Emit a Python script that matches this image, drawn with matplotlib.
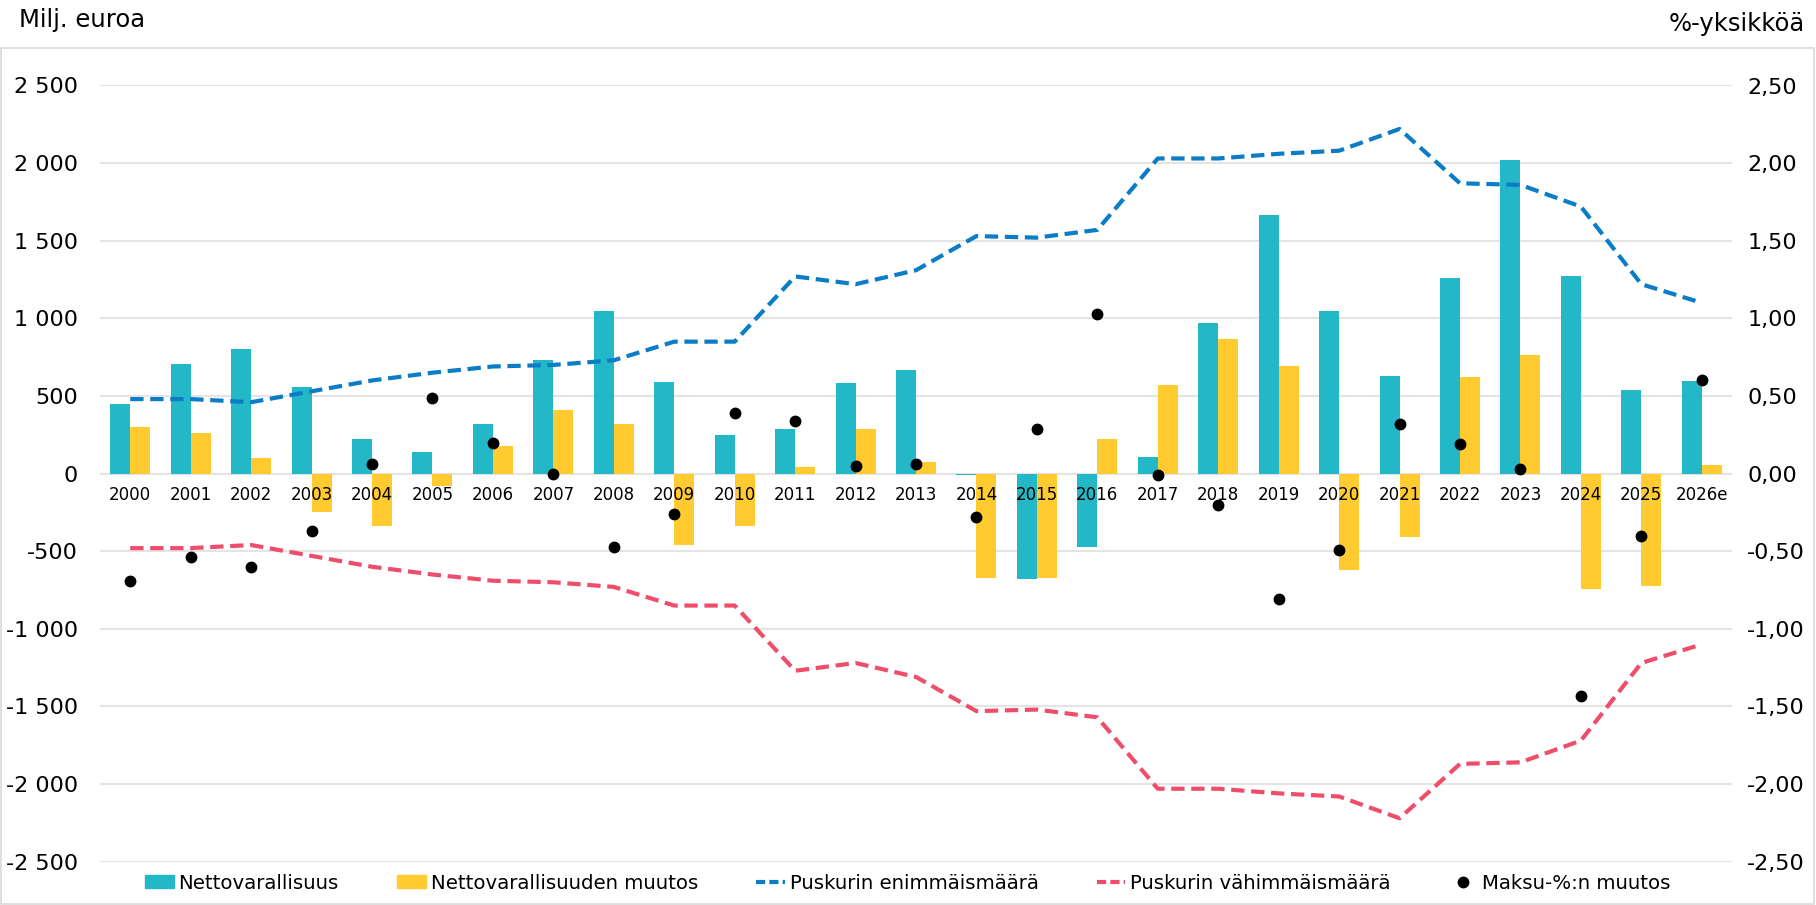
import matplotlib
matplotlib.use("Agg")
import matplotlib.pyplot as plt
import numpy as np
from matplotlib.lines import Line2D
from matplotlib.patches import Patch, Rectangle
from matplotlib.ticker import FuncFormatter, MultipleLocator

# data
years = ["2000", "2001", "2002", "2003", "2004", "2005", "2006", "2007", "2008",
         "2009", "2010", "2011", "2012", "2013", "2014", "2015", "2016", "2017",
         "2018", "2019", "2020", "2021", "2022", "2023", "2024", "2025", "2026e"]

# Milj. euroa
nettovarallisuus = [450, 705, 805, 555, 220, 140, 320, 730, 1050,
                    590, 250, 290, 585, 665, -10, -680, -470, 105,
                    970, 1665, 1045, 630, 1260, 2020, 1270, 540, 595]
nettovarallisuuden_muutos = [300, 260, 100, -250, -335, -80, 180, 410, 320,
                             -460, -340, 40, 290, 75, -670, -675, 220, 570,
                             870, 695, -620, -410, 625, 765, -745, -725, 55]

# %-yksikköä
puskurin_enimmaismaara = [0.48, 0.48, 0.46, 0.53, 0.60, 0.65, 0.69, 0.70, 0.73,
                          0.85, 0.85, 1.27, 1.22, 1.31, 1.53, 1.52, 1.57, 2.03,
                          2.03, 2.06, 2.08, 2.22, 1.87, 1.86, 1.72, 1.22, 1.10]
puskurin_vahimmaismaara = [-v for v in puskurin_enimmaismaara]
maksu_muutos = [-0.69, -0.54, -0.60, -0.37, 0.06, 0.49, 0.20, 0.00, -0.47,
                -0.26, 0.39, 0.34, 0.05, 0.06, -0.28, 0.29, 1.03, -0.01,
                -0.20, -0.81, -0.49, 0.32, 0.19, 0.03, -1.43, -0.40, 0.60]

TEAL = "#23b8c7"
YELLOW = "#ffcb31"
BLUE = "#0b7cc6"
RED = "#ef4e6b"
GRID = "#e4e4e4"

plt.rcParams["font.family"] = ["DejaVu Sans"]
plt.rcParams["axes.unicode_minus"] = False

W, H = 1816, 905
fig = plt.figure(figsize=(W / 100, H / 100), dpi=100)
top_px, bottom_px, left_px, right_px = 85.5, 861.7, 100, 1732
ax = fig.add_axes([left_px / W, 1 - bottom_px / H,
                   (right_px - left_px) / W, (bottom_px - top_px) / H])

x = np.arange(len(years))
bw = 0.33
ax.bar(x - bw / 2, nettovarallisuus, width=bw, color=TEAL, zorder=2)
ax.bar(x + bw / 2, nettovarallisuuden_muutos, width=bw, color=YELLOW, zorder=2)

ax.set_xlim(-0.5, len(years) - 0.5)
ax.set_ylim(-2500, 2500)
ax.yaxis.set_major_locator(MultipleLocator(500))
ax.yaxis.set_major_formatter(FuncFormatter(lambda v, p: f"{v:,.0f}".replace(",", " ")))
ax.yaxis.grid(True, color=GRID, lw=1.5)
ax.set_axisbelow(True)
ax.xaxis.set_zorder(2.5)  # year labels sit on top of the bars

ax.set_xticks(x)
ax.set_xticklabels(years)
ax.spines["bottom"].set_position(("data", 0))
for s in ax.spines.values():
    s.set_visible(False)
ax.tick_params(axis="x", length=0, pad=9, labelsize=12)
ax.tick_params(axis="y", length=0, pad=16, labelsize=16)

ax2 = ax.twinx()
ax2.set_ylim(-2.5, 2.5)
ax2.yaxis.set_major_locator(MultipleLocator(0.5))
ax2.yaxis.set_major_formatter(
    FuncFormatter(lambda v, p: f"{v + 0.0:.2f}".replace(".", ",").replace("-0,00", "0,00")))
for s in ax2.spines.values():
    s.set_visible(False)
ax2.tick_params(axis="y", length=0, pad=11, labelsize=16)

ax2.plot(x, puskurin_enimmaismaara, color=BLUE, lw=3, dashes=(3.2, 1.6), zorder=3)
ax2.plot(x, puskurin_vahimmaismaara, color=RED, lw=3, dashes=(3.2, 1.6), zorder=3)
ax2.plot(x, maksu_muutos, "o", color="black", ms=7.5, zorder=4)

fig.text(19 / W, 1 - 27 / H, "Milj. euroa", fontsize=17.5, va="baseline", ha="left")
fig.text(1805 / W, 1 - 31 / H, "%-yksikköä", fontsize=17.5, va="baseline", ha="right")

# light frame around the chart area
fig.add_artist(Rectangle((1 / W, 1 / H), (W - 3) / W, (H - 48 - 1) / H,
                         transform=fig.transFigure, fill=False,
                         edgecolor="#d9d9d9", lw=1.2))

handles = [
    Patch(color=TEAL),
    Patch(color=YELLOW),
    Line2D([], [], color=BLUE, lw=3, dashes=(2.2, 1.0)),
    Line2D([], [], color=RED, lw=3, dashes=(2.2, 1.0)),
    Line2D([], [], ls="none", marker="o", color="black", ms=7.5),
]
labels = ["Nettovarallisuus", "Nettovarallisuuden muutos", "Puskurin enimmäismäärä",
          "Puskurin vähimmäismäärä", "Maksu-%:n muutos"]
fig.legend(handles, labels, loc="center", bbox_to_anchor=(0.5, 1 - 883 / H),
           ncol=5, frameon=False, fontsize=14.2, handlelength=1.45,
           handleheight=0.6, handletextpad=0.25, columnspacing=2.95)

fig.savefig("out.png", dpi=100)
